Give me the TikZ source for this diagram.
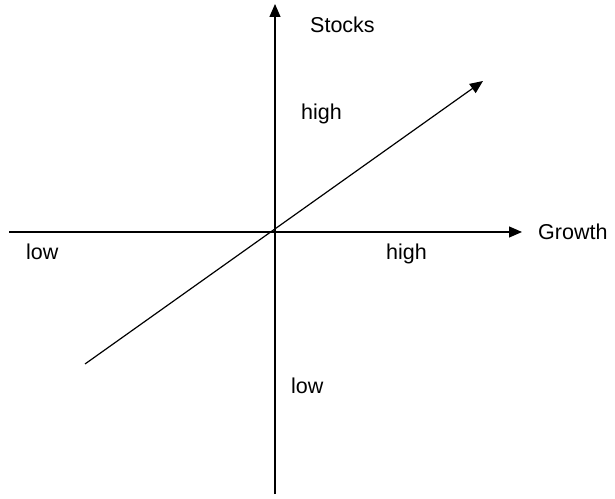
\documentclass[tikz,border=0pt]{standalone}
\usepackage{fontspec}
\setmainfont{Liberation Sans}
\usepackage{tikz}
\usetikzlibrary{arrows.meta}

\begin{document}
\begin{tikzpicture}[
    x=1pt, y=1pt,
    axis/.style={line width=1.2pt},
    arrow/.style={axis, -{Triangle[length=13pt, width=11pt]}},
    label/.style={anchor=base west, inner sep=0pt, font=\fontsize{21.5}{24}\selectfont}
  ]
    \useasboundingbox (0,0) rectangle (615,498);
    % axes end points
    \coordinate (ybot) at (275,4);
    \coordinate (ytop) at (275,494);
    \coordinate (xleft) at (9,266);
    \coordinate (xright) at (522,266);
    \coordinate (dlow) at (85,134);
    \coordinate (dhigh) at (483,417);
    \draw[arrow] (ybot) -- (ytop);
    \draw[arrow] (xleft) -- (xright);
    \draw[arrow] (dlow) -- (dhigh);
    % labels
    \node[label] (stocks) at (310,465) {Stocks};
    \node[label] (stockshigh) at (301,378) {high};
    \node[label] (stockslow) at (291,105) {low};
    \node[label] (growth) at (538,258) {Growth};
    \node[label] (growthhigh) at (386,238) {high};
    \node[label] (growthlow) at (26,238) {low};
  \end{tikzpicture}
\end{document}
